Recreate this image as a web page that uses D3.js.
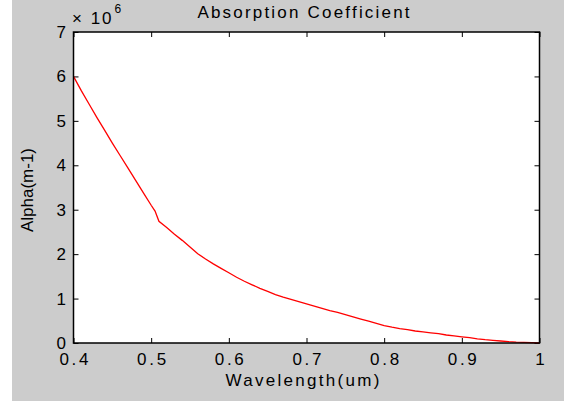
<!DOCTYPE html>
<html><head><meta charset="utf-8">
<script src="https://cdn.jsdelivr.net/npm/d3@7"></script>
<style>html,body{margin:0;padding:0;background:#fff;}svg{display:block;}</style>
</head><body>
<script>
const wavelength = [0.40,0.41,0.42,0.43,0.44,0.45,0.46,0.47,0.48,0.49,0.50,0.505,0.51,0.52,0.53,0.54,0.55,0.56,0.57,0.58,0.59,0.60,0.61,0.62,0.63,0.64,0.65,0.66,0.67,0.68,0.69,0.70,0.71,0.72,0.73,0.74,0.75,0.76,0.77,0.78,0.79,0.80,0.81,0.82,0.83,0.84,0.85,0.86,0.87,0.88,0.89,0.90,0.91,0.92,0.93,0.94,0.95,0.96,0.97,0.98,0.99,1.00];
const alphaE6 = [6.00,5.68,5.38,5.08,4.79,4.50,4.22,3.94,3.66,3.38,3.10,2.97,2.74,2.60,2.45,2.31,2.16,2.01,1.89,1.78,1.68,1.58,1.48,1.39,1.31,1.23,1.16,1.09,1.03,0.98,0.93,0.88,0.83,0.78,0.73,0.69,0.64,0.59,0.54,0.49,0.44,0.39,0.355,0.325,0.30,0.27,0.25,0.23,0.21,0.18,0.16,0.14,0.12,0.095,0.075,0.06,0.045,0.03,0.02,0.015,0.01,0.005];
const xTicks = [0.4,0.5,0.6,0.7,0.8,0.9,1];
const yTicks = [0,1,2,3,4,5,6,7];
const title = "Absorption Coefficient";
const xLabel = "Wavelength(um)";
const yLabel = "Alpha(m-1)";

const W = 564, H = 401;
const L = 73.5, R = 539.5, T = 32, B = 343;
const font = "'Liberation Sans', Arial, sans-serif";

const svg = d3.select("body").append("svg").attr("width", W).attr("height", H);
svg.append("rect").attr("x", 12).attr("y", 0).attr("width", W - 12).attr("height", H).attr("fill", "#cccccc");

const x = d3.scaleLinear().domain([0.4, 1]).range([L, R]);
const y = d3.scaleLinear().domain([0, 7]).range([B, T]);

svg.append("rect").attr("x", L).attr("y", T).attr("width", R - L).attr("height", B - T).attr("fill", "#fff");

const fmt = d => d === 1 ? "1" : d3.format(".1f")(d);
const tl = 5;
function styleAxis(g, ls) {
  g.select(".domain").remove();
  g.selectAll(".tick line").attr("stroke", "#000").attr("stroke-width", 1);
  g.selectAll(".tick text").attr("fill", "#000").style("font-family", font).style("font-size", "17px")
    .style("letter-spacing", ls + "px");
}
const gx = svg.append("g").attr("transform", `translate(0,${B})`)
  .call(d3.axisBottom(x).tickValues(xTicks).tickFormat(fmt).tickSizeInner(-tl).tickSizeOuter(0).tickPadding(10))
  .call(styleAxis, 2.7);
gx.selectAll(".tick text").attr("dx", 1.3);
svg.append("g").attr("transform", `translate(0,${T})`)
  .call(d3.axisTop(x).tickValues(xTicks).tickFormat("").tickSizeInner(-tl).tickSizeOuter(0))
  .call(styleAxis, 0);
svg.append("g").attr("transform", `translate(${L},0)`)
  .call(d3.axisLeft(y).tickValues(yTicks).tickFormat(d3.format("d")).tickSizeInner(-tl).tickSizeOuter(0).tickPadding(7.5))
  .call(styleAxis, 0);
svg.append("g").attr("transform", `translate(${R},0)`)
  .call(d3.axisRight(y).tickValues(yTicks).tickFormat("").tickSizeInner(-tl).tickSizeOuter(0))
  .call(styleAxis, 0);

const line = d3.line().x((d, i) => x(wavelength[i])).y(d => y(d));
svg.append("path").datum(alphaE6).attr("d", line).attr("fill", "none").attr("stroke", "#ff0000").attr("stroke-width", 1.3);

svg.append("rect").attr("x", L).attr("y", T).attr("width", R - L).attr("height", B - T)
  .attr("fill", "none").attr("stroke", "#000").attr("stroke-width", 1.5);

svg.append("text").attr("x", 303.5 + 1.1).attr("y", 18).attr("text-anchor", "middle")
  .style("font-family", font).style("font-size", "17px").style("letter-spacing", "2.2px").attr("fill", "#000").text(title);
svg.append("text").attr("x", 302.5 + 1.1).attr("y", 386).attr("text-anchor", "middle")
  .style("font-family", font).style("font-size", "17px").style("letter-spacing", "2.3px").attr("fill", "#000").text(xLabel);
svg.append("text").attr("transform", `translate(33,190) rotate(-90)`).attr("text-anchor", "middle")
  .style("font-family", font).style("font-size", "17px").attr("fill", "#000").text(yLabel);

const ex = svg.append("text").attr("x", 72).attr("y", 24).style("font-family", font).style("font-size", "17px")
  .style("letter-spacing", "2px").attr("fill", "#000");
ex.append("tspan").text("\u00d7 10");
ex.append("tspan").attr("dy", -11).attr("dx", 1).style("font-size", "12px").text("6");
</script>
</body></html>
